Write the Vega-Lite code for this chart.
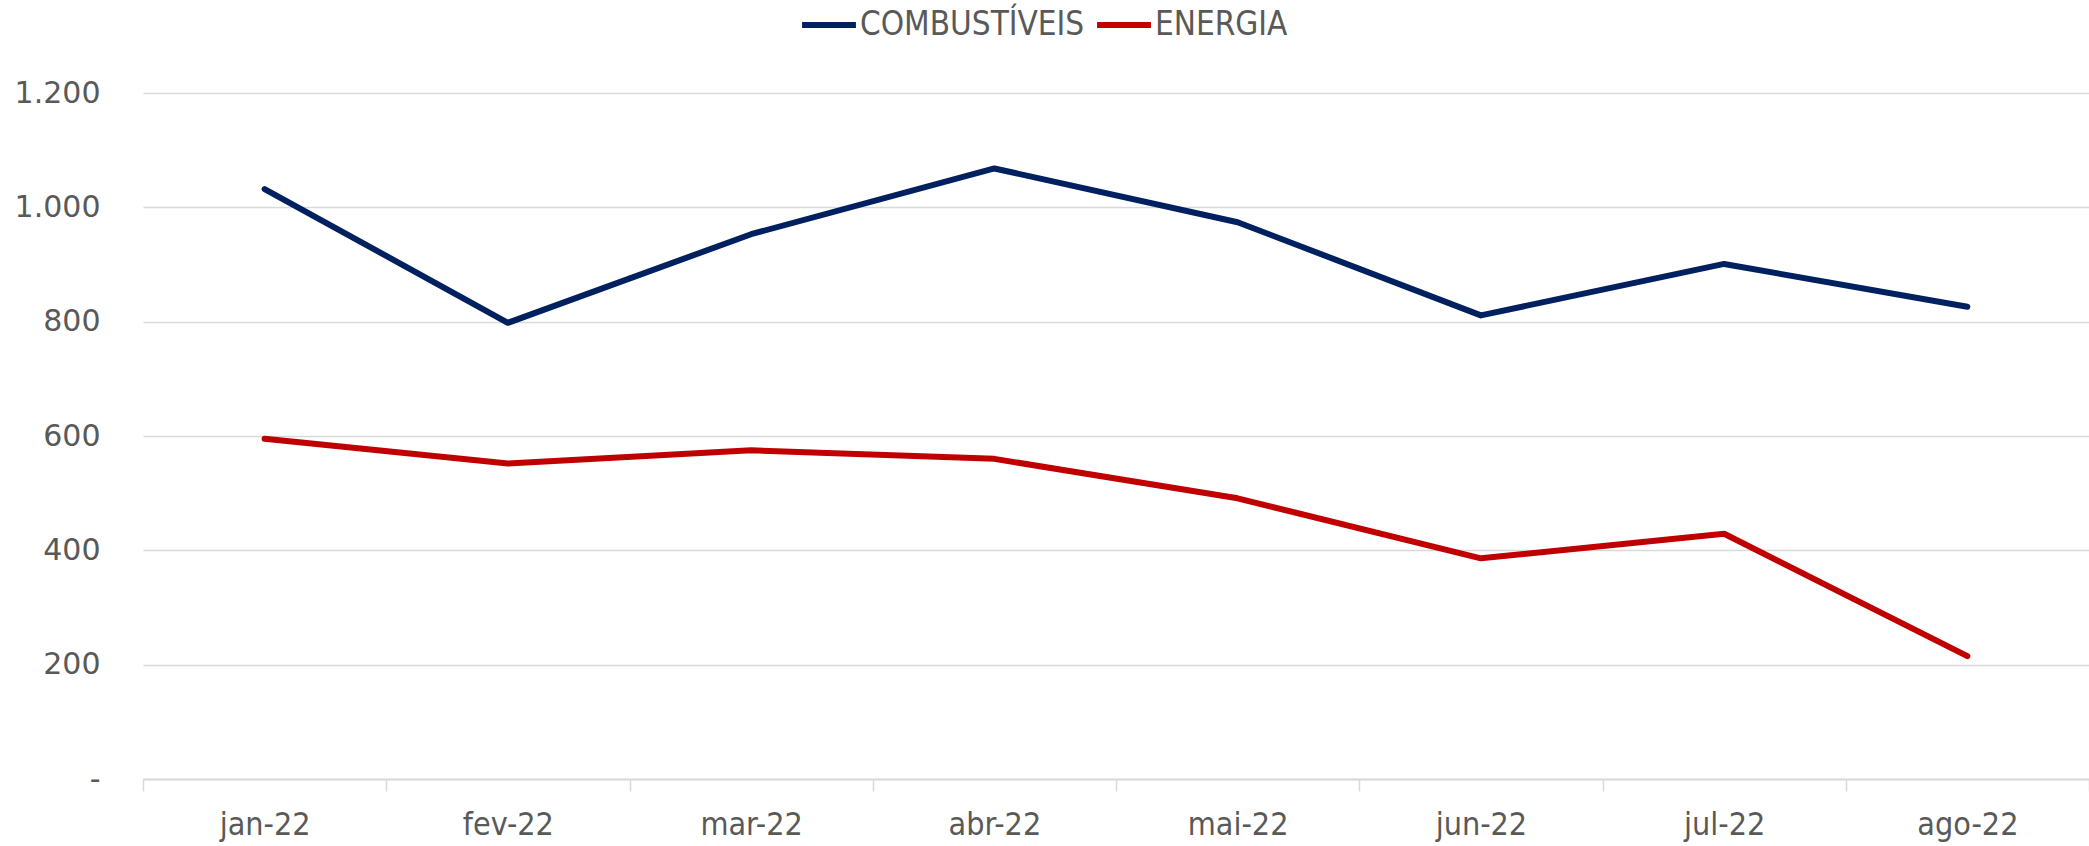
{
  "$schema": "https://vega.github.io/schema/vega-lite/v6.json",
  "width": 1946,
  "height": 686,
  "autosize": {"type": "none"},
  "padding": {"left": 143, "top": 93, "right": 0, "bottom": 67},
  "background": "white",
  "data": {
    "values": [
      {"mes": "jan-22", "serie": "COMBUSTÍVEIS", "valor": 1032},
      {"mes": "fev-22", "serie": "COMBUSTÍVEIS", "valor": 798},
      {"mes": "mar-22", "serie": "COMBUSTÍVEIS", "valor": 953},
      {"mes": "abr-22", "serie": "COMBUSTÍVEIS", "valor": 1068},
      {"mes": "mai-22", "serie": "COMBUSTÍVEIS", "valor": 974},
      {"mes": "jun-22", "serie": "COMBUSTÍVEIS", "valor": 811},
      {"mes": "jul-22", "serie": "COMBUSTÍVEIS", "valor": 901},
      {"mes": "ago-22", "serie": "COMBUSTÍVEIS", "valor": 826},
      {"mes": "jan-22", "serie": "ENERGIA", "valor": 595},
      {"mes": "fev-22", "serie": "ENERGIA", "valor": 552},
      {"mes": "mar-22", "serie": "ENERGIA", "valor": 575},
      {"mes": "abr-22", "serie": "ENERGIA", "valor": 560},
      {"mes": "mai-22", "serie": "ENERGIA", "valor": 491},
      {"mes": "jun-22", "serie": "ENERGIA", "valor": 386},
      {"mes": "jul-22", "serie": "ENERGIA", "valor": 429},
      {"mes": "ago-22", "serie": "ENERGIA", "valor": 215}
    ]
  },
  "mark": {"type": "line", "strokeWidth": 6, "strokeCap": "round", "strokeJoin": "round"},
  "encoding": {
    "x": {
      "field": "mes",
      "type": "nominal",
      "sort": null,
      "scale": {"type": "band", "paddingInner": 0, "paddingOuter": 0},
      "axis": {
        "title": null,
        "labelAngle": 0,
        "labelFont": "DejaVu Sans Condensed",
        "labelFontSize": 32,
        "labelColor": "#595959",
        "labelPadding": 18,
        "tickBand": "extent",
        "tickSize": 12,
        "tickColor": "#d9d9d9",
        "tickWidth": 1.5,
        "domainColor": "#d9d9d9",
        "domainWidth": 2,
        "grid": false
      }
    },
    "y": {
      "field": "valor",
      "type": "quantitative",
      "scale": {"domain": [0, 1200], "nice": false},
      "axis": {
        "title": null,
        "values": [0, 200, 400, 600, 800, 1000, 1200],
        "labelExpr": "datum.value == 0 ? '-' : replace(format(datum.value, ','), ',', '.')",
        "labelFont": "DejaVu Sans",
        "labelFontSize": 30,
        "labelColor": "#595959",
        "labelPadding": 43,
        "tickSize": 0,
        "domain": false,
        "grid": true,
        "gridColor": "#d9d9d9",
        "gridWidth": 1.5
      }
    },
    "color": {
      "field": "serie",
      "type": "nominal",
      "scale": {"domain": ["COMBUSTÍVEIS", "ENERGIA"], "range": ["#002060", "#C00000"]},
      "legend": {
        "title": null,
        "orient": "none",
        "direction": "horizontal",
        "legendX": 656,
        "legendY": -98,
        "symbolType": "stroke",
        "symbolSize": 2900,
        "symbolStrokeWidth": 6,
        "labelFont": "DejaVu Sans Condensed",
        "labelFontSize": 33,
        "labelColor": "#595959",
        "labelOffset": 1,
        "labelLimit": 400,
        "columnPadding": 0
      }
    }
  },
  "config": {"view": {"stroke": null}}
}
